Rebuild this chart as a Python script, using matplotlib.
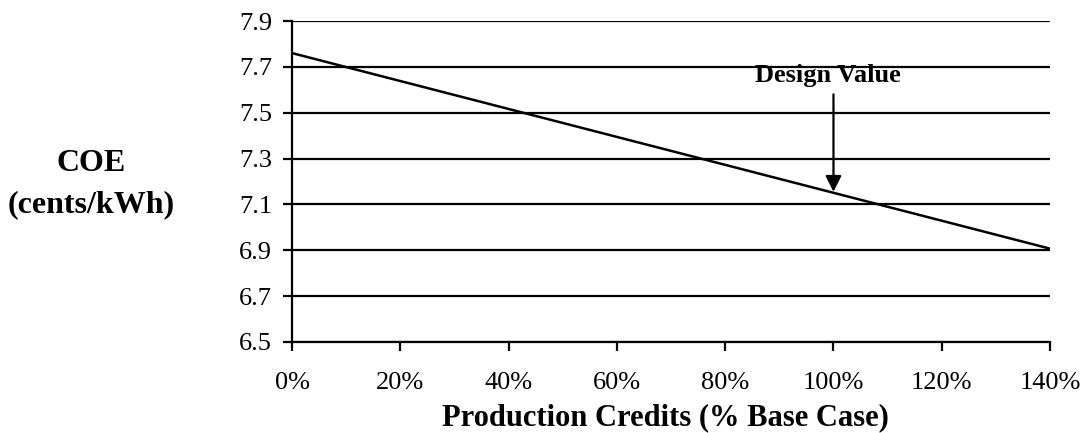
import matplotlib
matplotlib.use("Agg")
import matplotlib.pyplot as plt
from matplotlib.ticker import FuncFormatter

credits_pct = [0, 140]
coe = [7.76, 6.907]
design_x = 100
design_arrow_start = 7.58
design_arrow_tip = 7.155
design_label = 'Design Value'
y_ticks = [6.5, 6.7, 6.9, 7.1, 7.3, 7.5, 7.7, 7.9]
x_ticks = [0, 20, 40, 60, 80, 100, 120, 140]

plt.rcParams['font.family'] = ['Liberation Serif', 'DejaVu Serif']

fig = plt.figure(figsize=(10.86, 4.33), dpi=100)
ax = fig.add_axes([0.2689, 0.2102, 0.698, 0.7413])

for yv in y_ticks:
    ax.axhline(yv, color='black', lw=1.6, zorder=1)
ax.plot(credits_pct, coe, color='black', lw=1.8, zorder=3)

ax.annotate('', xy=(design_x, design_arrow_tip), xytext=(design_x, design_arrow_start),
            arrowprops=dict(arrowstyle='-|>', color='black', lw=1.6, mutation_scale=24,
                            shrinkA=0, shrinkB=0), zorder=4)
ax.text(design_x - 1.0, 7.635, design_label, ha='center', va='baseline',
        fontsize=19, fontweight='bold')

ax.set_xlim(0, 140)
ax.set_ylim(6.5, 7.9)
ax.set_xticks(x_ticks)
ax.set_yticks(y_ticks)
ax.xaxis.set_major_formatter(FuncFormatter(lambda v, p: f"{v:.0f}%"))
ax.yaxis.set_major_formatter(FuncFormatter(lambda v, p: f"{v:.1f}"))
ax.tick_params(axis='both', direction='out', length=6.5, width=1.6, labelsize=19, color='black')
ax.tick_params(axis='x', pad=15)
ax.tick_params(axis='y', pad=8)

for s in ['top', 'right']:
    ax.spines[s].set_visible(False)
for s in ['left', 'bottom']:
    ax.spines[s].set_linewidth(1.6)

fig.text(0.613, (433 - 425) / 433, 'Production Credits (% Base Case)', ha='center',
         va='baseline', fontsize=22, fontweight='bold')
fig.text(91 / 1086, (433 - 171) / 433, 'COE', ha='center', va='baseline', fontsize=23,
         fontweight='bold')
fig.text(91 / 1086, (433 - 212) / 433, '(cents/kWh)', ha='center', va='baseline', fontsize=23,
         fontweight='bold')

fig.savefig('out.png', dpi=100)
